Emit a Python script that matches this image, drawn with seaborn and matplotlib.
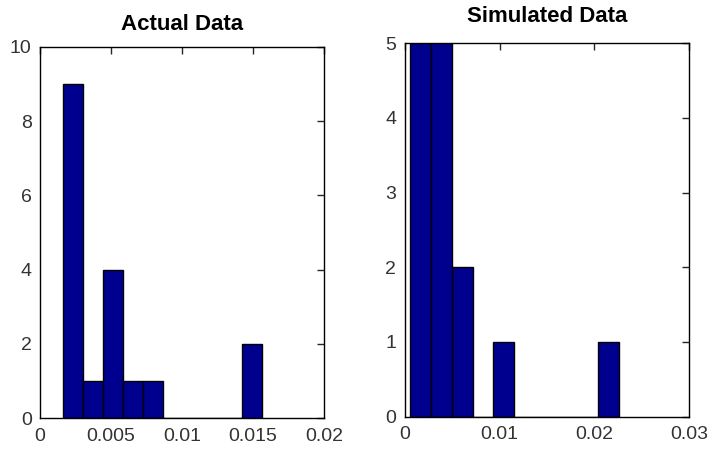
import matplotlib
matplotlib.use("Agg")
import matplotlib.pyplot as plt
import seaborn as sns
import pandas as pd

# bin edges / counts
actual_edges = [0.00164, 0.00304, 0.00444, 0.00584, 0.00724, 0.00864,
                0.01004, 0.01144, 0.01284, 0.01424, 0.01564]
actual_counts = [9, 1, 4, 1, 1, 0, 0, 0, 0, 2]

sim_edges = [0.00056, 0.00276, 0.00496, 0.00716, 0.00936, 0.01156,
             0.01376, 0.01596, 0.01816, 0.02036, 0.02256]
sim_counts = [5, 5, 2, 0, 1, 0, 0, 0, 0, 1]

actual_xticks = [0, 0.005, 0.01, 0.015, 0.02]
actual_xlabels = ["0", "0.005", "0.01", "0.015", "0.02"]
actual_yticks = [0, 2, 4, 6, 8, 10]
sim_xticks = [0, 0.01, 0.02, 0.03]
sim_xlabels = ["0", "0.01", "0.02", "0.03"]
sim_yticks = [0, 1, 2, 3, 4, 5]

sns.set_style("white")
plt.rcParams['font.family'] = ['Liberation Sans', 'DejaVu Sans']

bar_color = "#00008F"

fig = plt.figure(figsize=(7.12, 4.5), dpi=100)
ax1 = fig.add_axes([0.0562, 0.0711, 0.399, 0.825])
ax2 = fig.add_axes([0.5684, 0.074, 0.3997, 0.830])


def draw_hist(ax, edges, counts, title, xticks, xlabels, yticks, xmax, tpad):
    centers = [(a + b) / 2 for a, b in zip(edges[:-1], edges[1:])]
    df = pd.DataFrame({"value": centers, "count": counts})
    sns.histplot(data=df, x="value", weights="count", bins=edges, ax=ax,
                 color=bar_color, alpha=1, edgecolor="black", linewidth=1.0)
    ax.set_xlim(0, xmax)
    ax.set_ylim(0, yticks[-1])
    ax.set_xticks(xticks)
    ax.set_xticklabels(xlabels)
    ax.set_yticks(yticks)
    ax.set_xlabel("")
    ax.set_ylabel("")
    ax.set_title(title, fontsize=16, fontweight="bold", pad=tpad, color="black")
    ax.tick_params(direction="in", length=5, width=1, top=True, right=True,
                   labelsize=14, labelcolor="#333333")
    ax.tick_params(axis="x", pad=7)
    ax.tick_params(axis="y", pad=6)
    for s in ax.spines.values():
        s.set_visible(True)
        s.set_color("black")
        s.set_linewidth(1.0)


draw_hist(ax1, actual_edges, actual_counts, "Actual Data",
          actual_xticks, actual_xlabels, actual_yticks, 0.02, 12)
draw_hist(ax2, sim_edges, sim_counts, "Simulated Data",
          sim_xticks, sim_xlabels, sim_yticks, 0.03, 15)

fig.savefig("out.png", dpi=100)
